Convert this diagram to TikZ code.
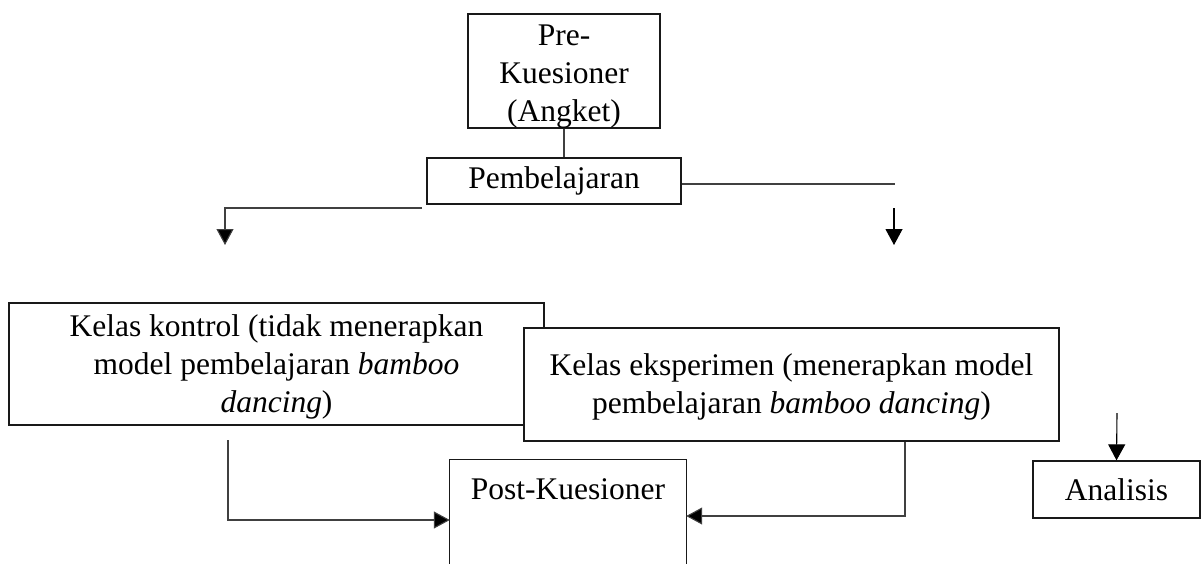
\documentclass[tikz,border=0pt]{standalone}
\usepackage{fontspec}
\setmainfont{Liberation Serif}
\usetikzlibrary{arrows.meta}
\begin{document}
\begin{tikzpicture}[x=1pt,y=-1pt,
  box/.style={draw=black!90, line width=1.5pt, fill=white, rectangle, inner sep=0pt, align=center,
    font=\fontsize{31.5}{38}\selectfont},
  txt/.style={inner sep=0pt, align=center, font=\fontsize{31.5}{38}\selectfont},
  conn/.style={draw=black!75, line width=1.1pt},
  arr/.style={conn, -{Triangle[length=16pt,width=17pt]}}]
\useasboundingbox (0,0) rectangle (1201,563);

% boxes
\node[box, minimum width=192pt, minimum height=112pt] (pre) at (564,71) {\rule{0pt}{31pt}Pre-\\Kuesioner\\(Angket)};
\node[box, minimum width=254pt, minimum height=46pt] (pemb) at (554,181) {Pembelajaran};
\node[box, minimum width=535pt, minimum height=122pt] (kontrol) at (276.5,364)
  {\rule{0pt}{28pt}Kelas kontrol (tidak menerapkan\\model pembelajaran \textit{bamboo}\\\textit{dancing})};
\node[box, minimum width=535pt, minimum height=113pt] (eksp) at (791.5,384.5)
  {\rule{0pt}{26pt}Kelas eksperimen (menerapkan model\\pembelajaran \textit{bamboo dancing})};
\node[draw=none, inner sep=0pt, minimum width=236pt, minimum height=112pt] (post) at (568,516) {};
\node[txt] (posttxt) at (568,489) {Post-Kuesioner};
\draw[draw=black!90, line width=1.3pt] (post.south west) -- (post.north west) -- (post.north east) -- (post.south east);
\node[box, line width=1.3pt, minimum width=167pt, minimum height=57pt] (analisis) at (1116.5,489.5) {Analisis};

% free ends
\coordinate (r1) at (895,184);
\coordinate (ra0) at (894,208);
\coordinate (ra1) at (894,245);
\coordinate (l0) at (422,208);
\coordinate (l1) at (225,245);
\coordinate (k0) at (228,440);
\coordinate (a0) at (1117,413);

% connectors
\draw[conn] (pre.south) -- (pre.south |- pemb.north);
\draw[conn] ([yshift=-3pt]pemb.east) -- (r1);
\draw[arr, draw=black] (ra0) -- (ra1);
\draw[arr, -{Triangle[length=16pt,width=17pt,fill=black]}] (l0) -| (l1);
\draw[arr, -{Triangle[length=16pt,width=17pt,fill=black]}] (k0) |- ([yshift=-4pt]post.west);
\draw[arr, -{Triangle[length=16pt,width=17pt,fill=black]}] (eksp.south -| 905,0) |- (post.east);
\draw[arr, draw=black] (a0) -- (analisis.north);
\end{tikzpicture}
\end{document}
